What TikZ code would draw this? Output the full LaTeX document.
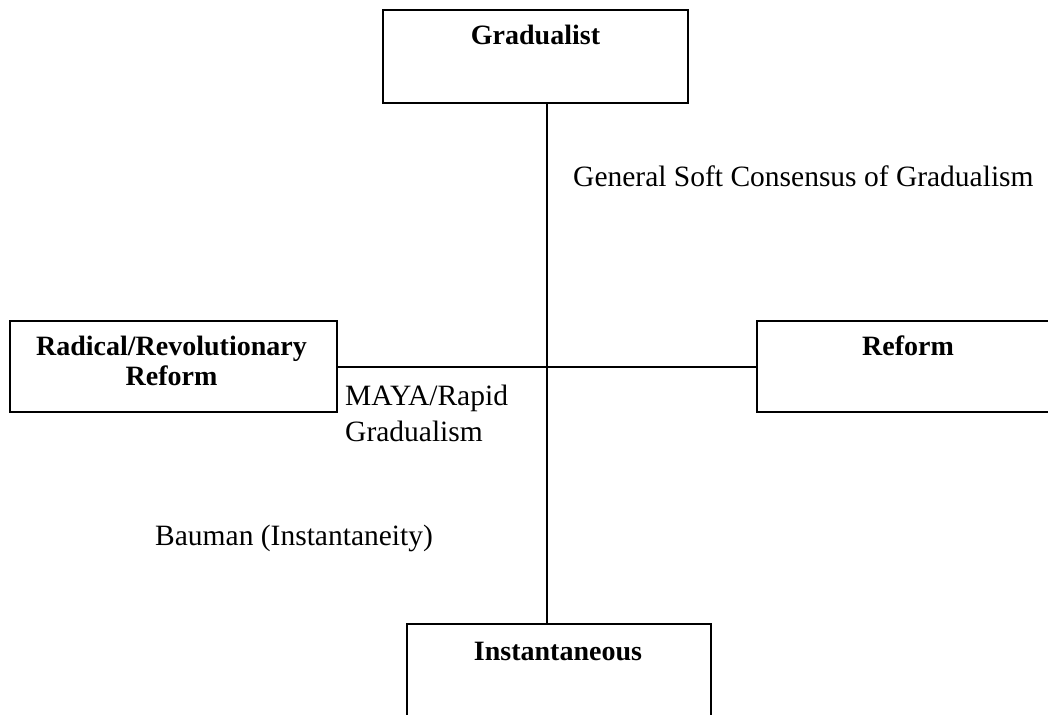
\documentclass[tikz,border=0pt]{standalone}
\usepackage{fontspec}
\setmainfont{Liberation Serif}
\begin{document}
\begin{tikzpicture}[x=1bp,y=-1bp,
  box/.style={draw, line width=1.5bp, inner sep=0pt},
  boldtxt/.style={font=\fontsize{28bp}{30bp}\selectfont\bfseries, inner sep=0pt},
  plaintxt/.style={font=\fontsize{29.5bp}{36bp}\selectfont, inner sep=0pt},
  link/.style={line width=1.5bp}]
\useasboundingbox (0,0) rectangle (1048,715);
\clip (0,0) rectangle (1048,715);
\fill[white] (0,0) rectangle (1048,715);
% boxes
\node[box, minimum width=305bp, minimum height=93bp] (grad) at (535.5,56.5) {};
\node[box, minimum width=327bp, minimum height=91bp] (rad) at (173.5,366.5) {};
\node[box, minimum width=303bp, minimum height=91bp] (ref) at (908.5,366.5) {};
\node[box, minimum width=304bp, minimum height=96bp] (inst) at (559,672) {};
% box texts
\node[boldtxt, anchor=base] (gradt) at (535.5,45) {Gradualist};
\node[boldtxt, anchor=base, align=center] (radt) at (171.5,385) {Radical/Revolutionary\\Reform};
\node[boldtxt, anchor=base] (reft) at (908,355) {Reform};
\node[boldtxt, anchor=base] (instt) at (558,660) {Instantaneous};
% free labels
\node[plaintxt, anchor=base west] (gen) at (573,187) {General Soft Consensus of Gradualism};
\node[plaintxt, anchor=base west, align=left] (maya) at (345,441) {MAYA/Rapid\\Gradualism};
\node[plaintxt, anchor=base west] (bau) at (155,545) {Bauman (Instantaneity)};
% connectors
\coordinate (hub) at (547,367);
\draw[link] (hub |- grad.south) -- (hub |- inst.north);
\draw[link] (rad.east |- hub) -- (ref.west |- hub);
\end{tikzpicture}
\end{document}
